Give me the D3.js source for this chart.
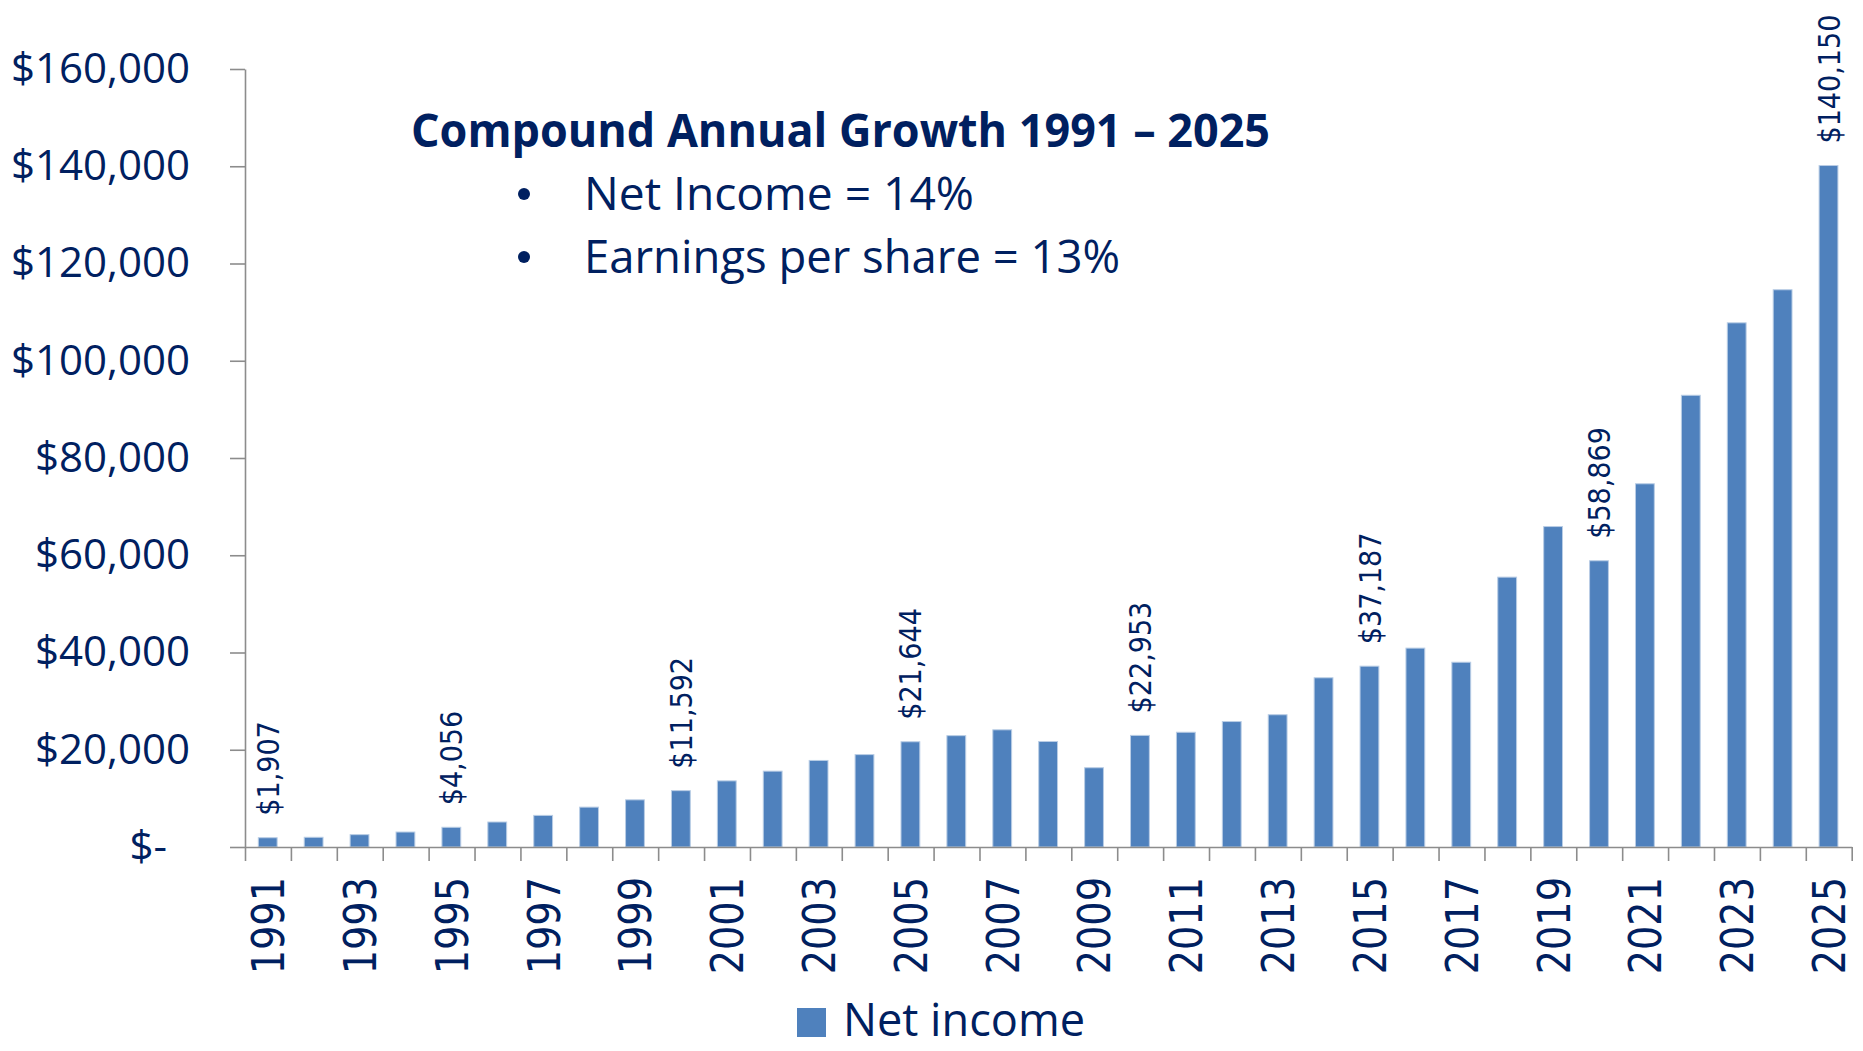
<!DOCTYPE html>
<html><head><meta charset="utf-8">
<script src="https://cdn.jsdelivr.net/npm/d3@7"></script>
<style>body{margin:0;background:#fff} svg{display:block}</style>
</head><body><svg id="c" width="1863" height="1051"></svg>
<script>
const years = [1991,1992,1993,1994,1995,1996,1997,1998,1999,2000,2001,2002,2003,2004,2005,2006,2007,2008,2009,2010,2011,2012,2013,2014,2015,2016,2017,2018,2019,2020,2021,2022,2023,2024,2025];
const netIncome = [1907,2000,2540,3080,4056,5140,6500,8200,9700,11592,13600,15600,17800,19000,21644,22900,24100,21700,16300,22953,23600,25800,27200,34800,37187,40900,38000,55500,65900,58869,74700,92900,107800,114600,140150];
const labeledYears = [1991,1995,2000,2005,2010,2015,2020,2025];
const yTicks = [0,20000,40000,60000,80000,100000,120000,140000,160000];
const xTickLabels = [1991,1993,1995,1997,1999,2001,2003,2005,2007,2009,2011,2013,2015,2017,2019,2021,2023,2025];
const titleText = "Compound Annual Growth 1991 \u2013 2025";
const bulletItems = ["Net Income = 14%","Earnings per share = 13%"];
const seriesName = "Net income";

const mLeft = 245, mRight = 1851.7, mTop = 69, mBottom = 847;
const navy = "#002060", barColor = "#4F81BD", axisColor = "#8c8c8c";
const svg = d3.select("#c");
const x = d3.scaleBand().domain(years).range([mLeft, mRight]).padding(0);
const y = d3.scaleLinear().domain([0, 160000]).range([mBottom, mTop]);
const fmt = d3.format(",");

// bars
svg.append("g").selectAll("rect").data(years).join("rect")
  .attr("x", d => x(d) + x.bandwidth() * 0.29)
  .attr("width", x.bandwidth() * 0.41)
  .attr("y", (d, i) => y(netIncome[i]))
  .attr("height", (d, i) => y(0) - y(netIncome[i]))
  .attr("fill", barColor).attr("stroke", "#b9cde5").attr("stroke-width", 1);

// y axis
const gy = svg.append("g").attr("transform", `translate(${mLeft},0)`)
  .call(d3.axisLeft(y).tickValues(yTicks).tickSize(15).tickSizeOuter(0).tickPadding(40)
    .tickFormat(d => d === 0 ? "$-" : "$" + fmt(d)));
gy.select(".domain").attr("stroke", axisColor).attr("stroke-width", 1.6);
gy.selectAll(".tick line").attr("stroke", axisColor).attr("stroke-width", 1.6);
gy.selectAll(".tick text").attr("fill", navy)
  .style("font-family", "'Open Sans'").style("font-size", "42px");
gy.selectAll(".tick text").filter(d => d === 0).attr("x", -78);

// x axis boundary ticks
const xb = d3.scaleLinear().domain([0, years.length]).range([mLeft, mRight]);
const gx = svg.append("g").attr("transform", `translate(0,${mBottom})`)
  .call(d3.axisBottom(xb).tickValues(d3.range(years.length + 1)).tickSize(14).tickSizeOuter(0).tickFormat(""));
gx.select(".domain").attr("stroke", axisColor).attr("stroke-width", 1.6);
gx.selectAll(".tick line").attr("stroke", axisColor).attr("stroke-width", 1.6);

// x labels
const gl = svg.append("g").attr("transform", `translate(0,${mBottom})`)
  .call(d3.axisBottom(x).tickValues(xTickLabels).tickSize(0).tickPadding(0));
gl.select(".domain").remove();
gl.selectAll(".tick text")
  .attr("transform", "rotate(-90)").attr("text-anchor", "end")
  .attr("x", -30).attr("y", 0).attr("dy", "0.36em")
  .attr("fill", navy).style("font-family", "'DejaVu Sans'").style("font-size", "45px")
  .each(function () { const L = this.getComputedTextLength(); this.setAttribute("textLength", L * 0.85); this.setAttribute("lengthAdjust", "spacingAndGlyphs"); });

// data labels
svg.append("g").selectAll("text").data(labeledYears).join("text")
  .attr("transform", d => `translate(${x(d) + x.bandwidth() / 2},${y(netIncome[years.indexOf(d)]) - 22}) rotate(-90)`)
  .attr("dy", "0.36em").attr("text-anchor", "start")
  .attr("fill", navy).style("font-family", "'DejaVu Sans'").style("font-size", "30px")
  .text(d => "$" + fmt(netIncome[years.indexOf(d)]))
  .each(function () { const L = this.getComputedTextLength(); this.setAttribute("textLength", L * 0.9); this.setAttribute("lengthAdjust", "spacingAndGlyphs"); });

// annotation
svg.append("text").attr("x", 411).attr("y", 147).attr("fill", navy)
  .style("font-family", "'Open Sans'").style("font-weight", "bold").style("font-size", "46px")
  .attr("textLength", 859).attr("lengthAdjust", "spacingAndGlyphs")
  .text(titleText);
const itemY = [210, 273], itemW = [390, 536];
bulletItems.forEach((t, i) => {
  svg.append("circle").attr("cx", 524).attr("cy", itemY[i] - 16).attr("r", 6).attr("fill", navy);
  svg.append("text").attr("x", 584).attr("y", itemY[i]).attr("fill", navy)
    .style("font-family", "'Open Sans'").style("font-size", "45px")
    .attr("textLength", itemW[i]).attr("lengthAdjust", "spacingAndGlyphs").text(t);
});

// legend
svg.append("rect").attr("x", 797).attr("y", 1008).attr("width", 29).attr("height", 29).attr("fill", barColor);
svg.append("text").attr("x", 843).attr("y", 1036).attr("fill", navy)
  .style("font-family", "'Open Sans'").style("font-size", "45px")
  .attr("textLength", 242).attr("lengthAdjust", "spacingAndGlyphs").text(seriesName);
</script></body></html>
